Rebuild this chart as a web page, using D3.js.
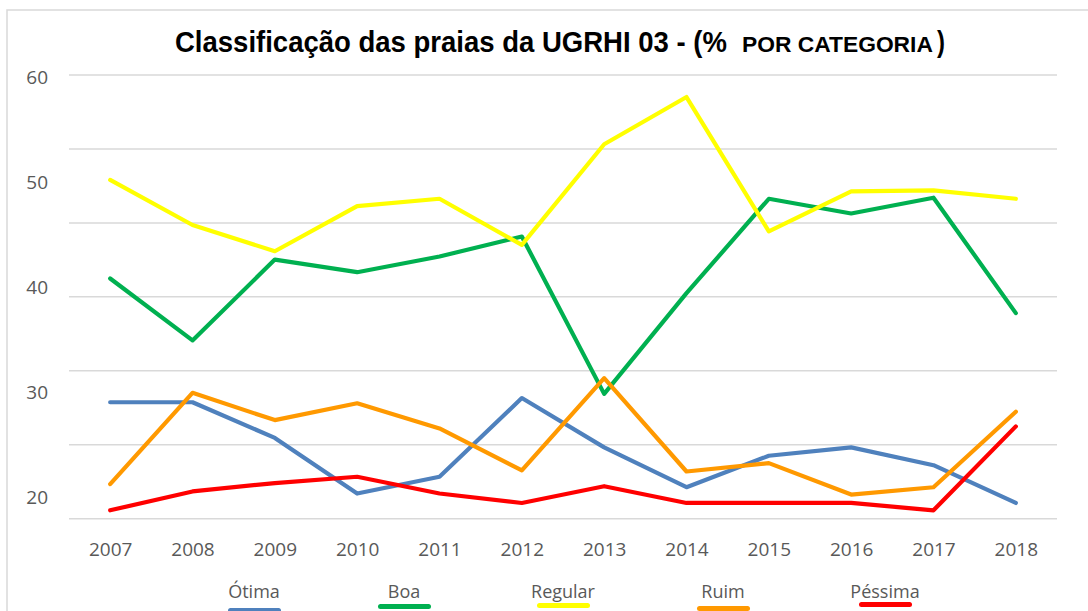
<!DOCTYPE html>
<html>
<head>
<meta charset="utf-8">
<script src="https://cdn.jsdelivr.net/npm/d3@7"></script>
<style>
  html, body { margin: 0; padding: 0; background: #fff; }
  svg { display: block; }
</style>
</head>
<body>
<div class="chart-container"></div>
<script>
// Chart data
var years = ["2007", "2008", "2009", "2010", "2011", "2012", "2013", "2014", "2015", "2016", "2017", "2018"];
var otima   = [29.0, 29.0, 25.6, 20.3, 21.9, 29.4, 24.7, 20.9, 23.9, 24.7, 23.0, 19.4];
var boa     = [40.8, 34.9, 42.6, 41.4, 42.9, 44.8, 29.8, 39.4, 48.4, 47.0, 48.5, 37.5];
var regular = [50.2, 45.9, 43.4, 47.7, 48.4, 44.0, 53.6, 58.1, 45.3, 49.1, 49.2, 48.4];
var ruim    = [21.2, 29.9, 27.3, 28.9, 26.5, 22.5, 31.3, 22.4, 23.2, 20.2, 20.9, 28.1];
var pessima = [18.7, 20.5, 21.3, 21.9, 20.3, 19.4, 21.0, 19.4, 19.4, 19.4, 18.7, 26.7];
var seriesNames = ["Ótima", "Boa", "Regular", "Ruim", "Péssima"];
var yTickLabels = [20, 30, 40, 50, 60];

// Styles
var colors = ["#4F81BD", "#00B050", "#FFFF00", "#FF9900", "#FF0000"];
var textGray = "#595959";
var gridGray = "#d9d9d9";

var width = 1088, height = 611;
var plot = {left: 69, right: 1057, top: 75, bottom: 518.7};

var svg = d3.select(".chart-container").append("svg")
    .attr("width", width)
    .attr("height", height);

// Light outer frame (partly cut off by the window, as in the picture)
svg.append("rect")
    .attr("x", 7).attr("y", 10)
    .attr("width", 1200).attr("height", 700)
    .attr("fill", "none")
    .attr("stroke", gridGray)
    .attr("stroke-width", 1.5);

// Scales
var x = d3.scalePoint()
    .domain(years)
    .range([plot.left, plot.right])
    .padding(0.5);

var yDomain = [17.9, 60.2];
var y = d3.scaleLinear()
    .domain(yDomain)
    .range([plot.bottom, plot.top]);

// Grid lines: 7 evenly spaced across the plot (they do not sit on the labels)
var gridValues = d3.range(7).map(function(i) {
    return yDomain[0] + i * (yDomain[1] - yDomain[0]) / 6;
});
svg.append("g")
    .attr("class", "grid")
    .selectAll("line")
    .data(gridValues)
    .join("line")
    .attr("x1", plot.left)
    .attr("x2", plot.right)
    .attr("y1", function(d) { return y(d); })
    .attr("y2", function(d) { return y(d); })
    .attr("stroke", gridGray)
    .attr("stroke-width", 1.5);

// Y axis labels
var yAxis = svg.append("g")
    .attr("transform", "translate(48,0)")
    .call(d3.axisLeft(y).tickValues(yTickLabels).tickSize(0).tickPadding(0));
yAxis.select(".domain").remove();
yAxis.selectAll("text")
    .attr("fill", textGray)
    .attr("font-family", "'Open Sans', sans-serif")
    .attr("font-size", 19)
    .attr("dy", "0.35em");

// X axis labels
var xAxis = svg.append("g")
    .attr("transform", "translate(0,542)")
    .call(d3.axisBottom(x).tickSize(0).tickPadding(0));
xAxis.select(".domain").remove();
xAxis.selectAll("text")
    .attr("fill", textGray)
    .attr("font-family", "'Open Sans', sans-serif")
    .attr("font-size", 19);

// Lines, in series order so later ones sit on top
var allSeries = [otima, boa, regular, ruim, pessima];
var line = d3.line()
    .x(function(d, i) { return x(years[i]); })
    .y(function(d) { return y(d); });

svg.append("g")
    .attr("class", "lines")
    .selectAll("path")
    .data(allSeries)
    .join("path")
    .attr("d", line)
    .attr("fill", "none")
    .attr("stroke", function(d, i) { return colors[i]; })
    .attr("stroke-width", 4.2)
    .attr("stroke-linejoin", "round")
    .attr("stroke-linecap", "round");

// Title: bold Arial-like text squeezed horizontally to look like a narrow face
function squeezedText(str, left, fontSize, targetWidth) {
    var g = svg.append("g");
    var t = g.append("text")
        .attr("y", 52)
        .attr("font-family", "'Liberation Sans', Arial, sans-serif")
        .attr("font-weight", "bold")
        .attr("font-size", fontSize)
        .attr("fill", "#000")
        .text(str);
    var natural = t.node().getComputedTextLength();
    var k = natural > 0 ? targetWidth / natural : 1;
    g.attr("transform", "translate(" + left + ",0) scale(" + k + ",1)");
}
squeezedText("Classificação das praias da UGRHI 03 - (%", 175, 29.5, 552);
squeezedText("POR CATEGORIA", 742, 21.5, 191);
squeezedText(")", 937, 29.5, 8);

// Legend: label with a short coloured bar underneath
var legendX = [254, 404, 563, 723, 885];
var swatchY = [608, 604, 603, 606, 602];
var legend = svg.append("g").attr("class", "legend")
    .selectAll("g")
    .data(seriesNames)
    .join("g")
    .attr("transform", function(d, i) { return "translate(" + legendX[i] + ",0)"; });

legend.append("text")
    .attr("y", 598)
    .attr("text-anchor", "middle")
    .attr("fill", textGray)
    .attr("font-family", "'Open Sans', sans-serif")
    .attr("font-size", 18)
    .text(function(d) { return d; });

legend.append("rect")
    .attr("x", -26)
    .attr("y", function(d, i) { return swatchY[i]; })
    .attr("width", 53)
    .attr("height", 5)
    .attr("rx", 2.5)
    .attr("fill", function(d, i) { return colors[i]; });
</script>
</body>
</html>
